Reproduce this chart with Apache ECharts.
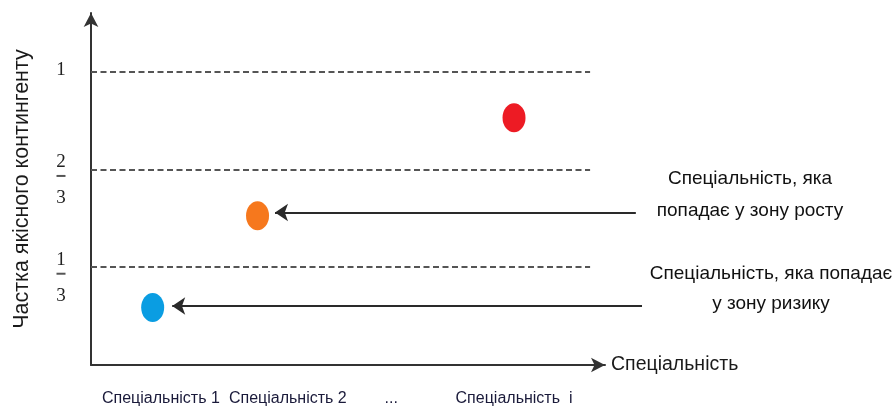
<!DOCTYPE html>
<html>
<head>
<meta charset="utf-8">
<script src="https://cdn.jsdelivr.net/npm/echarts@6/dist/echarts.min.js"></script>
<style>
html,body{margin:0;padding:0;background:#fff;}
#chart{width:894px;height:410px;}
</style>
</head>
<body>
<div id="chart"></div>
<script>
// ---- data ----
var pointNames = ['Спеціальність 1', 'Спеціальність 2', 'Спеціальність i'];
var pointX = [1.20, 3.24, 8.23];
var pointY = [0.196, 0.509, 0.843];
var xLabels = ['Спеціальність 1', 'Спеціальність 2', '...', 'Спеціальність  i'];
var xLabelPos = [1.36, 3.83, 5.84, 8.23];
var yLevels = [1 / 3, 2 / 3, 1];
var yLevelLabels = ['1/3', '2/3', '1'];
var xAxisName = 'Спеціальність';
var yAxisName = 'Частка якісного контингенту';
var noteGrowth = ['Спеціальність, яка', 'попадає у зону росту'];
var noteRisk = ['Спеціальність, яка попадає', 'у зону ризику'];
var arrowGrowth = [[10.60, 0.52], [3.58, 0.52]];
var arrowRisk = [[10.72, 0.201], [1.58, 0.201]];
var dashEnd = 9.71;

var pointColors = ['#0a9de2', '#f6781d', '#ed1b24'];

function nearestIndex(arr, v) {
  var best = 0, d = Infinity;
  for (var i = 0; i < arr.length; i++) {
    var dd = Math.abs(arr[i] - v);
    if (dd < d) { d = dd; best = i; }
  }
  return best;
}

var chart = echarts.init(document.getElementById('chart'));

var dashData = yLevels.map(function (y) {
  return [{ coord: [0, y] }, { coord: [dashEnd, y] }];
});

var option = {
  animation: false,
  grid: { left: 91, right: 289, top: 13, bottom: 45 },
  xAxis: {
    type: 'value', min: 0, max: 10,
    name: xAxisName, nameLocation: 'end', nameGap: 6,
    nameTextStyle: { fontFamily: 'Liberation Sans', fontSize: 19.5, color: '#1a1a1a', verticalAlign: 'middle', align: 'left', padding: [12, 0, 0, 0] },
    axisLine: { show: true, lineStyle: { color: '#333', width: 2 }, symbol: ['none', 'arrow'], symbolSize: [11, 14] },
    axisTick: { show: false },
    splitLine: { show: false },
    axisLabel: {
      customValues: xLabelPos,
      margin: 26,
      fontFamily: 'Liberation Sans', fontSize: 16, color: '#1a1a3a',
      formatter: function (v) { return xLabels[nearestIndex(xLabelPos, v)]; }
    }
  },
  yAxis: {
    type: 'value', min: 0, max: 1.2,
    name: yAxisName, nameLocation: 'middle', nameGap: 58, nameRotate: 90,
    nameTextStyle: { fontFamily: 'Liberation Sans', fontSize: 21.5, color: '#1a1a1a' },
    axisLine: { show: true, lineStyle: { color: '#333', width: 2 }, symbol: ['none', 'arrow'], symbolSize: [11, 14] },
    axisTick: { show: false },
    splitLine: { show: false },
    axisLabel: {
      customValues: yLevels,
      margin: 30,
      align: 'center',
      fontFamily: 'Liberation Serif', fontSize: 19, color: '#222',
      formatter: function (v) {
        var s = yLevelLabels[nearestIndex(yLevels, v)];
        if (s.indexOf('/') < 0) return '{w|' + s + '}';
        var p = s.split('/');
        return '{e| }\n{n|' + p[0] + '}\n{l| }\n{d|' + p[1] + '}';
      },
      rich: {
        w: { fontFamily: 'Liberation Serif', fontSize: 19, color: '#222', lineHeight: 20, padding: [0, 0, 4, 0] },
        e: { fontSize: 1, lineHeight: 29, height: 29 },
        n: { fontFamily: 'Liberation Serif', fontSize: 19, color: '#222', lineHeight: 20 },
        l: { fontSize: 1, width: 9, height: 2, lineHeight: 8, backgroundColor: '#555' },
        d: { fontFamily: 'Liberation Serif', fontSize: 19, color: '#222', lineHeight: 36 }
      }
    }
  },
  graphic: [
    {
      type: 'text', x: 750, y: 163,
      style: { text: noteGrowth.join('\n'), align: 'center', fontFamily: 'Liberation Sans', fontSize: 19, lineHeight: 32, fill: '#111' }
    },
    {
      type: 'text', x: 771, y: 259,
      style: { text: noteRisk.join('\n'), align: 'center', fontFamily: 'Liberation Sans', fontSize: 19, lineHeight: 30, fill: '#111' }
    }
  ],
  series: [
    {
      type: 'scatter',
      clip: false,
      symbol: 'circle',
      symbolSize: [23, 29],
      itemStyle: { opacity: 1 },
      data: pointX.map(function (x, i) {
        return { name: pointNames[i], value: [x, pointY[i]], itemStyle: { color: pointColors[i], opacity: 1 } };
      }),
      markLine: {
        silent: true,
        symbol: ['none', 'none'],
        label: { show: false },
        emphasis: { disabled: true },
        lineStyle: { color: '#555', width: 2, type: [6, 3.5] },
        data: dashData
      }
    },
    {
      type: 'lines',
      coordinateSystem: 'cartesian2d',
      clip: false,
      silent: true,
      symbol: ['none', 'arrow'],
      symbolSize: [11, 13],
      lineStyle: { color: '#2a2a2a', width: 2, opacity: 1, curveness: 0 },
      data: [{ coords: arrowGrowth }, { coords: arrowRisk }]
    }
  ]
};
chart.setOption(option);
</script>
</body>
</html>
